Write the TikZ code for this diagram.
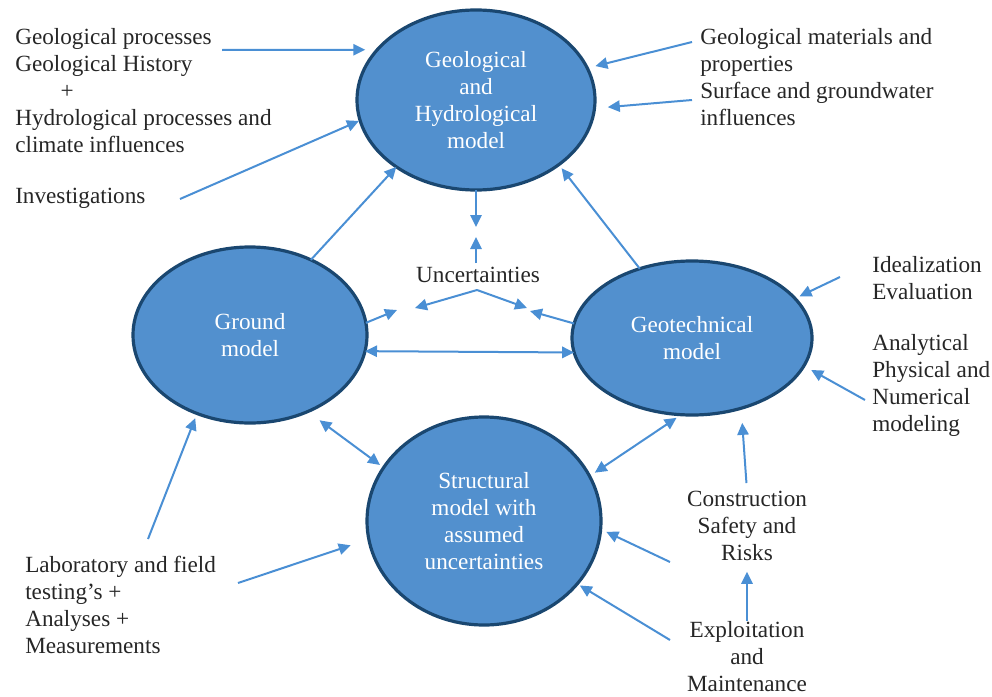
\documentclass[tikz,border=0pt]{standalone}
\usepackage{fontspec}
\setmainfont{Liberation Serif}
\usepackage{xcolor}
\usepackage{tikz}
\usetikzlibrary{positioning,arrows.meta,shapes.geometric}
\definecolor{ink}{HTML}{262626}
\definecolor{rim}{HTML}{1A4770}
\definecolor{bubble}{HTML}{5290CE}
\definecolor{flow}{HTML}{4A8FD4}

\begin{document}
\begin{tikzpicture}[x=0.75pt,y=-0.75pt,
  font=\fontsize{17.4}{20.25}\selectfont,
  >={Triangle[length=9pt,width=8.5pt]},
  model/.style={ellipse,draw=rim,line width=2.4pt,fill=bubble,text=white,align=center,inner sep=0pt,outer sep=0pt},
  txt/.style={text=ink,inner sep=0pt,align=left,anchor=north west},
  mid/.style={txt,align=center,anchor=north},
  arr/.style={->,color=flow,line width=1.5pt},
  dbl/.style={arr,<->}]
\useasboundingbox (0,0) rectangle (992,696);
% the four models
\node[model,minimum width=178.5pt,minimum height=135pt] (geo) at (476,100) {Geological\\and\\Hydrological\\model};
\node[model,minimum width=175.5pt,minimum height=132pt] (ground) at (250,335) {Ground\\model};
\node[model,minimum width=180pt,minimum height=115.5pt] (geotech) at (692,338) {Geotechnical\\model};
\node[model,minimum width=175.5pt,minimum height=156pt] (struct) at (484,521) {Structural\\model with\\assumed\\uncertainties};
% texts
\node[txt] (gp) at (15,28) {Geological processes\\Geological History\\\hspace*{34pt}+\\Hydrological processes and\\climate influences};
\node[txt] (inv) at (15,188) {Investigations};
\node[txt] (gm) at (700,28) {Geological materials and\\properties\\Surface and groundwater\\influences};
\node[txt] (ideal) at (872,256) {Idealization\\Evaluation};
\node[txt] (anal) at (872,334) {Analytical\\Physical and\\Numerical\\modeling};
\node[mid] (cons) at (747,491) {Construction\\Safety and\\Risks};
\node[mid] (expl) at (747,621) {Exploitation\\and\\Maintenance};
\node[txt] (lab) at (25,556) {Laboratory and field\\testing’s +\\Analyses +\\Measurements};
\node[mid] (unc) at (478,267) {Uncertainties};
% free arrow ends
\coordinate (gpS) at (222,50); \coordinate (invS) at (180,199);
\coordinate (gmS) at (692,42); \coordinate (sgS) at (692,100);
\coordinate (uA) at (476,227); \coordinate (uB) at (476,263); \coordinate (uC) at (476,237);
\coordinate (uD) at (477,290); \coordinate (uL) at (415,308); \coordinate (uR) at (527,308);
\coordinate (gL) at (397,310); \coordinate (tR) at (530,311);
\coordinate (idS) at (840,277); \coordinate (anS) at (865,400);
\coordinate (s1S) at (670,562); \coordinate (s2S) at (670,640);
\coordinate (lb1S) at (148,539); \coordinate (lb2S) at (238,583);
% connectors
\draw[arr,shorten >=9pt] (gpS)--(geo.153); \draw[arr,shorten >=1pt] (invS)--(geo.190);
\draw[arr,shorten >=6.3pt] (gmS)--(geo.16); \draw[arr,shorten >=10pt] (sgS)--(geo.-4);
\draw[arr] (ground.51)--(geo.220); \draw[arr,shorten >=3.4pt] (geotech.127)--(geo.-38);
\draw[arr] (geo.south)--(uA); \draw[arr] (uB)--(uC);
\draw[arr] (uD)--(uL); \draw[arr] (uD)--(uR);
\draw[arr] (ground.6)--(gL); \draw[arr] (geotech.173)--(tR);
\draw[dbl] (ground.-8)--(geotech.187);
\draw[dbl,shorten <=11pt,shorten >=3.3pt] (ground.-53)--(struct.152);
\draw[dbl,shorten <=4.7pt,shorten >=4.2pt] (struct.23)--(geotech.-98);
\draw[arr,shorten >=3.8pt] (idS)--(geotech.21); \draw[arr,shorten >=6.3pt] (anS)--(geotech.-14);
\draw[arr,shorten <=6pt,shorten >=11pt] (cons.north)--(geotech.-55);
\draw[arr,shorten >=8pt] (expl.north)--(cons.south);
\draw[arr,shorten >=4.7pt] (s1S)--(struct.-4); \draw[arr,shorten >=2.3pt] (s2S)--(struct.-34);
\draw[arr,shorten >=3.8pt] (lb1S)--(ground.236); \draw[arr,shorten >=14.3pt] (lb2S)--(struct.189);
\end{tikzpicture}
\end{document}
